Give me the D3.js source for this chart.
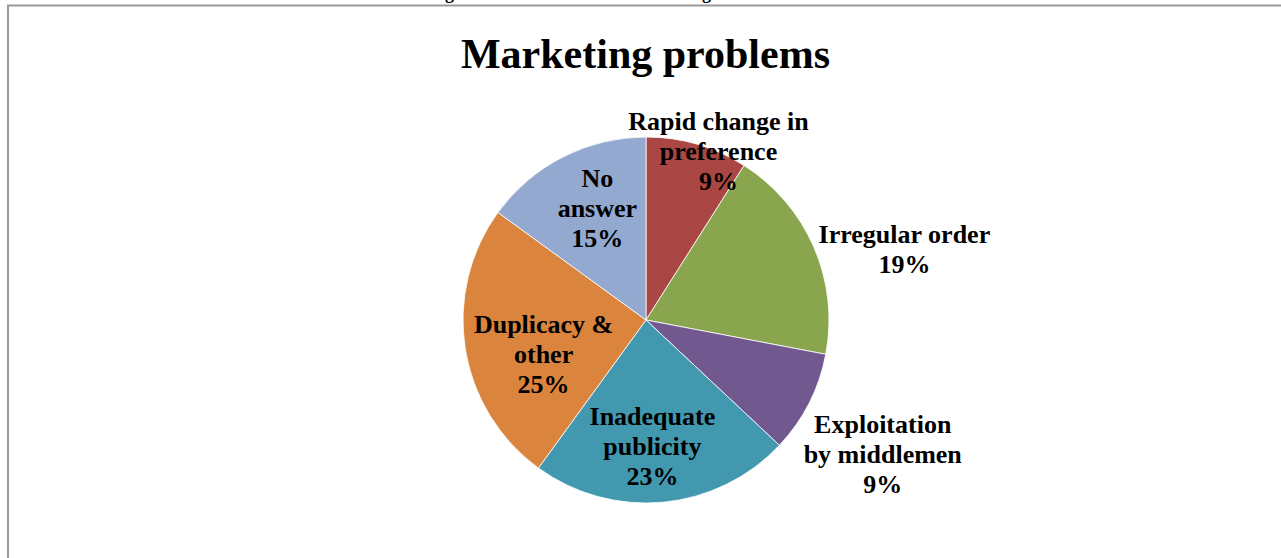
<!DOCTYPE html>
<html>
<head>
<meta charset="utf-8">
<script src="https://cdn.jsdelivr.net/npm/d3@7"></script>
<style>
  html, body { margin: 0; padding: 0; background: #fff; }
  svg { display: block; }
  text { font-family: "Liberation Serif", "Times New Roman", serif; font-weight: bold; fill: #000; }
</style>
</head>
<body>
<svg id="chart" width="1281" height="558"></svg>
<script>
// Share of respondents by marketing problem (percent)
const categories = [
  "Rapid change in preference",
  "Irregular order",
  "Exploitation by middlemen",
  "Inadequate publicity",
  "Duplicacy & other",
  "No answer"
];
const values = [9, 19, 9, 23, 25, 15];
const labelLines = [
  ["Rapid change in", "preference"],
  ["Irregular order"],
  ["Exploitation", "by middlemen"],
  ["Inadequate", "publicity"],
  ["Duplicacy &", "other"],
  ["No", "answer"]
];
const colors = ["#AA4643", "#89A54E", "#71588F", "#4198AF", "#DB843D", "#93A9CF"];

// Label placement: radius from centre and angular nudge (degrees) from slice mid-angle
const labelPlacement = [
  { r: 184, nudge: 7 },
  { r: 268, nudge: 8 },
  { r: 272, nudge: 2.5 },
  { r: 126, nudge: 2.5 },
  { r: 108, nudge: -9.5 },
  { r: 122, nudge: 3.5 }
];

const svg = d3.select("#chart");
const W = 1281, H = 558;
const cx = 646, cy = 320, radius = 183;

// Frame around the chart area (runs off the right and bottom edges)
svg.append("rect")
  .attr("x", 8).attr("y", 5.5)
  .attr("width", W + 20).attr("height", H + 20)
  .attr("fill", "none")
  .attr("stroke", "#9a9a9a")
  .attr("stroke-width", 2);

// Caption line above the frame, mostly above the visible area
const caption = svg.append("g").attr("class", "caption");
caption.append("text")
  .attr("x", 454).attr("y", -1)
  .attr("text-anchor", "end")
  .attr("font-size", 18)
  .text("Chart 5.8: Showing");
caption.append("text")
  .attr("x", 629).attr("y", -1)
  .attr("font-size", 18)
  .text("Marketing Problems");

// Title
svg.append("text")
  .attr("x", 645.5).attr("y", 68)
  .attr("text-anchor", "middle")
  .attr("font-size", 42)
  .text("Marketing problems");

const pie = d3.pie().sort(null).value(d => d)(values);
const arc = d3.arc().innerRadius(0).outerRadius(radius);

const g = svg.append("g").attr("transform", `translate(${cx},${cy})`);

g.selectAll("path.slice")
  .data(pie)
  .join("path")
  .attr("class", "slice")
  .attr("d", arc)
  .attr("fill", (d, i) => colors[i])
  .attr("stroke", "#ffffff")
  .attr("stroke-width", 0.8);

const lineH = 30;
const fs = 26;

g.selectAll("text.lbl")
  .data(pie)
  .join("text")
  .attr("class", "lbl")
  .attr("text-anchor", "middle")
  .attr("font-size", fs)
  .each(function (d, i) {
    const lines = labelLines[i].concat([Math.round(values[i]) + "%"]);
    const mid = (d.startAngle + d.endAngle) / 2 + labelPlacement[i].nudge * Math.PI / 180;
    const r = labelPlacement[i].r;
    const x = Math.sin(mid) * r;
    const y = -Math.cos(mid) * r;
    const top = y - (lines.length - 1) * lineH / 2;
    const t = d3.select(this);
    lines.forEach((ln, k) => {
      t.append("tspan")
        .attr("x", x)
        .attr("y", top + k * lineH)
        .attr("dy", "0.35em")
        .text(ln);
    });
  });
</script>
</body>
</html>
